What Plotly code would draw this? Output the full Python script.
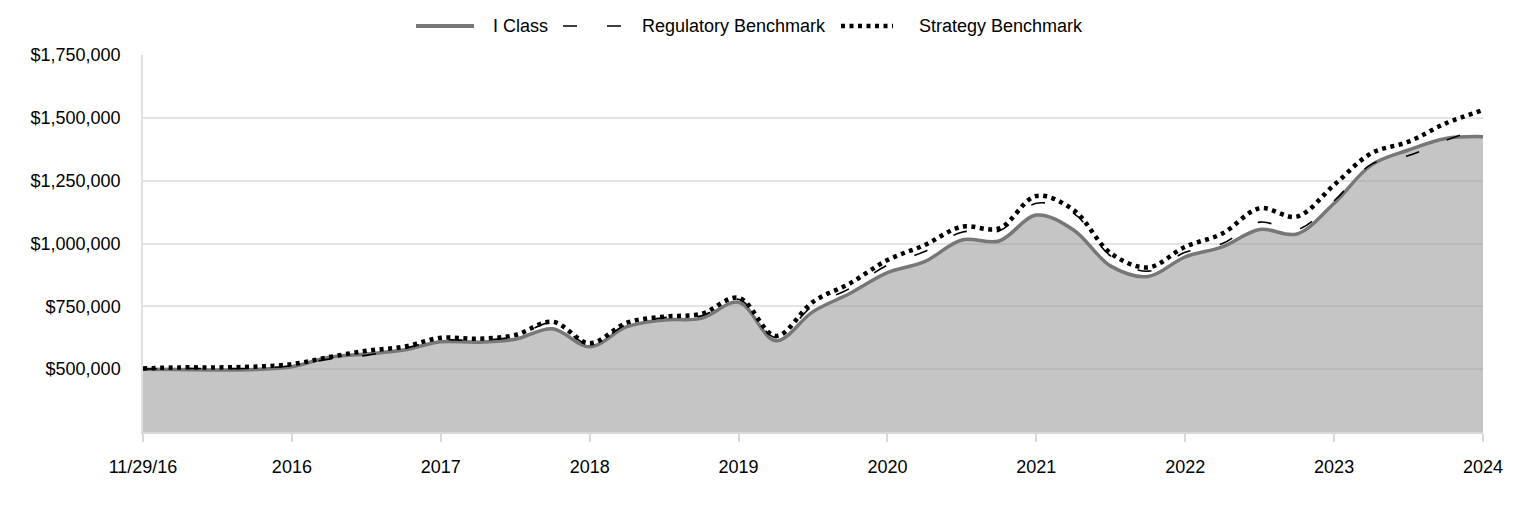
import plotly.graph_objects as go

tick_labels = ["11/29/16", "2016", "2017", "2018", "2019", "2020", "2021", "2022", "2023", "2024"]

# quarterly observations (index 0..36)
i_class = [500000, 499000, 497000, 499000, 510000, 547000, 560000, 576000, 609000, 607000,
           619000, 661000, 589000, 669000, 696000, 702000, 766000, 613000, 729000, 802000,
           884000, 928000, 1014000, 1010000, 1113000, 1054000, 910000, 869000, 947000, 987000,
           1056000, 1038000, 1160000, 1312000, 1372000, 1418000, 1425000]
regulatory = [500000, 503000, 502000, 504000, 514000, 540000, 555000, 582000, 615000, 615000,
              630000, 684000, 598000, 678000, 705000, 712000, 778000, 626000, 752000, 822000,
              914000, 968000, 1045000, 1050000, 1160000, 1120000, 950000, 890000, 965000, 1000000,
              1085000, 1055000, 1170000, 1315000, 1350000, 1410000, 1462000]
strategy = [503000, 507000, 507000, 510000, 520000, 548000, 573000, 589000, 625000, 621000,
            636000, 689000, 603000, 685000, 709000, 720000, 784000, 632000, 768000, 842000,
            934000, 994000, 1067000, 1060000, 1189000, 1133000, 961000, 905000, 987000, 1040000,
            1140000, 1107000, 1233000, 1359000, 1405000, 1478000, 1531000]

series_names = ["I Class", "Regulatory Benchmark", "Strategy Benchmark"]
y_ticks = [500000, 750000, 1000000, 1250000, 1500000, 1750000]

FONT = "Liberation Sans, Arial, sans-serif"
GRAY = "#777777"
REG_DASH = "14px,30px"
STRAT_DASH = "4px,4.5px"

x = list(range(len(i_class)))
tickvals = list(range(0, len(i_class), 4))

# page is rendered with an 8px body margin; plot area spans page x 143..1483, y 55..432
PL, PR, PT, PB = 143, 1483, 55, 432


def px_x(p):
    return (p - PL) / (PR - PL)


def px_y(p):
    return (PB - p) / (PB - PT)


styles = [
    dict(color=GRAY, width=4, dash="solid"),
    dict(color="#000000", width=1.6, dash=REG_DASH),
    dict(color="#000000", width=4.5, dash=STRAT_DASH),
]

fig = go.Figure()
fig.add_trace(go.Scatter(
    x=x, y=i_class, name=series_names[0], mode="lines",
    line=dict(color=GRAY, width=3.5, shape="spline", smoothing=1),
    fill="tozeroy", fillcolor="rgba(150,150,150,0.55)",
))
fig.add_trace(go.Scatter(
    x=x, y=regulatory, name=series_names[1], mode="lines",
    line=dict(color="#000000", width=1.6, dash=REG_DASH, shape="spline", smoothing=1),
))
fig.add_trace(go.Scatter(
    x=x, y=strategy, name=series_names[2], mode="lines",
    line=dict(color="#000000", width=4.5, dash=STRAT_DASH, shape="spline", smoothing=1),
))

# custom legend (symbols + real text)
legend_symbols = [(416, 474), (563, 623), (841, 893)]
legend_text_x = [491, 640, 917]
LEG_Y = 26
shapes = []
annotations = []
for (x0, x1), tx, name, st in zip(legend_symbols, legend_text_x, series_names, styles):
    shapes.append(dict(type="line", xref="paper", yref="paper",
                       x0=px_x(x0), x1=px_x(x1), y0=px_y(LEG_Y), y1=px_y(LEG_Y),
                       line=dict(color=st["color"], width=st["width"], dash=st["dash"])))
    annotations.append(dict(text=name, xref="paper", yref="paper", x=px_x(tx), y=px_y(LEG_Y),
                            xanchor="left", yanchor="middle", showarrow=False,
                            font=dict(family=FONT, size=18, color="#000000")))

fig.update_layout(
    width=1516, height=508,
    margin=dict(l=135, r=41, t=47, b=84),
    paper_bgcolor="white", plot_bgcolor="white",
    font=dict(family=FONT, size=18, color="#000000"),
    hovermode=False,
    showlegend=False,
    shapes=shapes,
    annotations=annotations,
    xaxis=dict(
        range=[0, len(i_class) - 1], tickmode="array", tickvals=tickvals, ticktext=tick_labels,
        showgrid=False, zeroline=False, showline=True, linecolor="#d9d9d9", linewidth=1.5,
        ticks="outside", ticklen=8, tickcolor="#d9d9d9", tickwidth=1.5,
        ticklabelstandoff=10, tickfont=dict(size=18),
    ),
    yaxis=dict(
        range=[250000, 1750000], tickmode="array", tickvals=y_ticks,
        ticktext=["${:,.0f}".format(v) for v in y_ticks],
        showgrid=True, gridcolor="#e4e4e4", gridwidth=1.5, zeroline=False,
        showline=True, linecolor="#e0e0e0", linewidth=1.5, ticks="",
        ticklabelstandoff=17, tickfont=dict(size=18),
    ),
)

fig.write_html("out.html")
